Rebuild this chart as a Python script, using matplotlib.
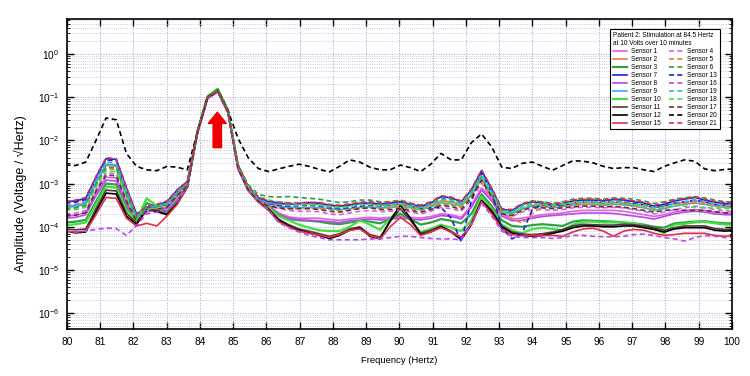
import numpy as np
import matplotlib
matplotlib.use('Agg')
import matplotlib.pyplot as plt
from matplotlib.ticker import LogLocator, FixedLocator, NullFormatter

plt.rcParams['font.family'] = ['Liberation Sans', 'DejaVu Sans']
plt.rcParams['mathtext.default'] = 'regular'

# FFT bins (Hz): 20000/65536 Hz resolution, bins 262..329
freq = np.arange(262, 330) * 20000 / 65536

# amplitudes, stored as log10(V/sqrt(Hz))
s1 = [-3.75, -3.73, -3.67, -3.22, -2.85, -2.87, -3.42, -3.88, -3.64, -3.60,
      -3.55, -3.28, -3.06, -1.83, -1.02, -0.87, -1.35, -2.66, -3.15, -3.40,
      -3.50, -3.68, -3.77, -3.80, -3.80, -3.80, -3.83, -3.85, -3.82, -3.80,
      -3.78, -3.80, -3.78, -3.76, -3.78, -3.80, -3.76, -3.70, -3.72, -3.78,
      -3.50, -3.10, -3.35, -3.70, -3.82, -3.80, -3.76, -3.72, -3.70, -3.68,
      -3.64, -3.62, -3.62, -3.62, -3.62, -3.64, -3.68, -3.72, -3.76, -3.72,
      -3.66, -3.62, -3.60, -3.62, -3.66, -3.68, -3.68, -3.68]
s2 = [-3.52, -3.50, -3.44, -2.98, -2.58, -2.60, -3.22, -3.78, -3.58, -3.55,
      -3.48, -3.20, -3.00, -1.82, -1.01, -0.85, -1.33, -2.62, -3.12, -3.37,
      -3.46, -3.48, -3.48, -3.47, -3.47, -3.48, -3.50, -3.52, -3.48, -3.45,
      -3.47, -3.50, -3.50, -3.47, -3.52, -3.56, -3.50, -3.40, -3.42, -3.48,
      -3.25, -2.90, -3.30, -3.66, -3.68, -3.60, -3.50, -3.50, -3.52, -3.50,
      -3.46, -3.44, -3.44, -3.45, -3.44, -3.45, -3.48, -3.50, -3.56, -3.52,
      -3.46, -3.44, -3.40, -3.43, -3.48, -3.50, -3.50, -3.50]
s3 = [-3.90, -3.88, -3.84, -3.42, -3.00, -3.02, -3.55, -3.88, -3.45, -3.55,
      -3.65, -3.38, -3.08, -1.80, -0.98, -0.81, -1.30, -2.60, -3.12, -3.40,
      -3.52, -3.72, -3.82, -3.85, -3.86, -3.88, -3.92, -3.94, -3.90, -3.86,
      -3.88, -3.92, -3.82, -3.70, -3.82, -3.95, -3.90, -3.82, -3.86, -3.92,
      -3.70, -3.25, -3.52, -3.85, -3.98, -4.00, -3.96, -3.94, -3.96, -3.98,
      -3.88, -3.85, -3.86, -3.87, -3.88, -3.90, -3.92, -3.95, -4.00, -4.02,
      -3.92, -3.90, -3.88, -3.87, -3.90, -3.92, -3.92, -3.92]
s7 = [-3.42, -3.40, -3.34, -2.85, -2.42, -2.44, -3.10, -3.70, -3.55, -3.50,
      -3.42, -3.15, -2.95, -1.80, -1.00, -0.84, -1.32, -2.58, -3.08, -3.33,
      -3.42, -3.45, -3.47, -3.46, -3.44, -3.45, -3.50, -3.52, -3.50, -3.46,
      -3.45, -3.47, -3.45, -3.42, -3.48, -3.53, -3.45, -3.30, -3.33, -3.42,
      -3.15, -2.70, -3.12, -3.60, -3.62, -3.48, -3.42, -3.45, -3.50, -3.46,
      -3.40, -3.38, -3.38, -3.40, -3.37, -3.38, -3.42, -3.45, -3.52, -3.48,
      -3.40, -3.36, -3.32, -3.38, -3.43, -3.46, -3.46, -3.47]
s8 = [-3.80, -3.78, -3.72, -3.28, -2.92, -2.94, -3.48, -3.90, -3.65, -3.62,
      -3.58, -3.30, -3.07, -1.84, -1.03, -0.88, -1.36, -2.67, -3.16, -3.42,
      -3.55, -3.72, -3.80, -3.84, -3.85, -3.86, -3.88, -3.90, -3.86, -3.84,
      -3.82, -3.84, -3.82, -3.80, -3.82, -3.84, -3.80, -3.74, -3.76, -3.82,
      -3.55, -3.15, -3.40, -3.75, -3.86, -3.85, -3.80, -3.76, -3.74, -3.72,
      -3.70, -3.68, -3.68, -3.68, -3.69, -3.72, -3.75, -3.78, -3.82, -3.76,
      -3.70, -3.66, -3.64, -3.66, -3.70, -3.72, -3.72, -3.72]
s9 = [-3.55, -3.53, -3.47, -2.97, -2.55, -2.57, -3.20, -3.78, -3.56, -3.54,
      -3.47, -3.20, -3.00, -1.82, -1.01, -0.85, -1.33, -2.62, -3.12, -3.38,
      -3.48, -3.52, -3.55, -3.56, -3.55, -3.56, -3.58, -3.60, -3.58, -3.55,
      -3.54, -3.56, -3.55, -3.53, -3.56, -3.60, -3.54, -3.44, -3.47, -3.52,
      -3.28, -2.85, -3.25, -3.68, -3.70, -3.58, -3.52, -3.53, -3.56, -3.53,
      -3.50, -3.48, -3.48, -3.50, -3.48, -3.49, -3.52, -3.56, -3.62, -3.58,
      -3.52, -3.48, -3.45, -3.48, -3.52, -3.55, -3.56, -3.56]
s10 = [-3.96, -3.94, -3.90, -3.48, -3.07, -3.09, -3.60, -3.85, -3.34, -3.52,
       -3.73, -3.45, -3.08, -1.79, -0.97, -0.80, -1.29, -2.58, -3.10, -3.38,
       -3.55, -3.75, -3.85, -3.95, -4.02, -4.08, -4.10, -4.10, -4.00, -3.85,
       -3.95, -4.07, -3.80, -3.60, -3.85, -4.12, -4.05, -3.95, -4.02, -4.10,
       -3.85, -3.30, -3.60, -3.95, -4.08, -4.15, -4.05, -4.02, -4.05, -4.08,
       -3.95, -3.88, -3.88, -3.90, -3.90, -3.90, -3.92, -3.98, -4.05, -4.15,
       -3.95, -3.93, -3.90, -3.88, -3.92, -3.95, -3.95, -3.95]
s11 = [-4.05, -4.07, -4.05, -3.58, -3.15, -3.17, -3.68, -3.92, -3.55, -3.62,
       -3.70, -3.45, -3.08, -1.80, -1.00, -0.84, -1.32, -2.62, -3.14, -3.40,
       -3.58, -3.82, -3.95, -4.05, -4.10, -4.16, -4.22, -4.16, -4.05, -4.00,
       -4.18, -4.24, -3.88, -3.58, -3.85, -4.15, -4.08, -3.98, -4.10, -4.25,
       -3.92, -3.38, -3.62, -3.98, -4.12, -4.17, -4.18, -4.16, -4.12, -4.06,
       -3.98, -3.94, -3.95, -3.96, -3.96, -3.94, -3.95, -3.98, -4.02, -4.08,
       -4.02, -3.98, -3.98, -3.98, -4.04, -4.06, -4.05, -4.05]
s12 = [-4.10, -4.14, -4.12, -3.65, -3.22, -3.24, -3.75, -3.95, -3.57, -3.65,
       -3.72, -3.46, -3.08, -1.80, -1.00, -0.84, -1.32, -2.62, -3.15, -3.42,
       -3.60, -3.85, -3.98, -4.08, -4.14, -4.20, -4.27, -4.20, -4.08, -4.03,
       -4.22, -4.28, -3.85, -3.50, -3.80, -4.18, -4.12, -4.00, -4.12, -4.30,
       -3.95, -3.40, -3.65, -4.00, -4.15, -4.20, -4.22, -4.20, -4.15, -4.10,
       -4.02, -3.98, -3.98, -4.00, -4.00, -3.98, -3.98, -4.02, -4.06, -4.12,
       -4.05, -4.02, -4.02, -4.02, -4.08, -4.10, -4.08, -4.08]
s15 = [-4.10, -4.12, -4.10, -3.72, -3.32, -3.34, -3.80, -3.98, -3.92, -3.98,
       -3.75, -3.48, -3.09, -1.81, -1.01, -0.85, -1.33, -2.63, -3.16, -3.43,
       -3.62, -3.88, -4.00, -4.10, -4.15, -4.19, -4.24, -4.18, -4.08, -4.05,
       -4.20, -4.28, -4.00, -3.78, -3.95, -4.20, -4.12, -4.02, -4.12, -4.25,
       -3.95, -3.42, -3.70, -4.05, -4.18, -4.20, -4.20, -4.20, -4.20, -4.22,
       -4.12, -4.05, -4.03, -4.10, -4.22, -4.10, -4.06, -4.08, -4.15, -4.20,
       -4.18, -4.15, -4.15, -4.15, -4.20, -4.22, -4.20, -4.20]
s4 = [-3.70, -3.68, -3.62, -3.14, -2.75, -2.77, -3.35, -3.85, -3.62, -3.58,
      -3.52, -3.25, -3.04, -1.83, -1.02, -0.86, -1.34, -2.62, -3.12, -3.38,
      -3.50, -3.58, -3.62, -3.64, -3.64, -3.65, -3.70, -3.72, -3.68, -3.64,
      -3.62, -3.65, -3.64, -3.62, -3.66, -3.70, -3.64, -3.55, -3.58, -3.64,
      -3.38, -2.98, -3.35, -3.72, -3.76, -3.66, -3.60, -3.60, -3.62, -3.60,
      -3.56, -3.55, -3.55, -3.56, -3.55, -3.56, -3.60, -3.64, -3.70, -3.66,
      -3.60, -3.56, -3.52, -3.56, -3.60, -3.63, -3.64, -3.64]
s5 = [-3.60, -3.58, -3.52, -3.04, -2.65, -2.67, -3.27, -3.82, -3.60, -3.57,
      -3.50, -3.22, -3.02, -1.82, -1.01, -0.85, -1.33, -2.63, -3.13, -3.40,
      -3.52, -3.56, -3.58, -3.58, -3.57, -3.58, -3.60, -3.63, -3.60, -3.56,
      -3.55, -3.58, -3.56, -3.54, -3.58, -3.62, -3.56, -3.46, -3.50, -3.55,
      -3.30, -2.92, -3.32, -3.70, -3.80, -3.92, -3.70, -3.52, -3.55, -3.52,
      -3.50, -3.48, -3.48, -3.50, -3.48, -3.48, -3.52, -3.55, -3.60, -3.56,
      -3.50, -3.47, -3.44, -3.47, -3.52, -3.54, -3.55, -3.55]
s6 = [-3.58, -3.56, -3.50, -3.02, -2.62, -2.64, -3.25, -3.80, -3.58, -3.55,
      -3.48, -3.22, -3.02, -1.82, -1.01, -0.85, -1.32, -2.55, -3.02, -3.25,
      -3.30, -3.31, -3.30, -3.32, -3.34, -3.36, -3.40, -3.44, -3.42, -3.38,
      -3.38, -3.42, -3.42, -3.38, -3.45, -3.50, -3.44, -3.34, -3.36, -3.44,
      -3.18, -2.82, -3.20, -3.62, -3.66, -3.50, -3.40, -3.42, -3.46, -3.42,
      -3.36, -3.34, -3.34, -3.36, -3.33, -3.34, -3.36, -3.40, -3.46, -3.42,
      -3.36, -3.33, -3.30, -3.33, -3.38, -3.42, -3.42, -3.42]
s13 = [-3.45, -3.43, -3.37, -2.88, -2.45, -2.47, -3.12, -3.74, -3.56, -3.52,
       -3.44, -3.18, -2.97, -1.81, -1.01, -0.85, -1.33, -2.60, -3.10, -3.35,
       -3.46, -3.50, -3.52, -3.51, -3.50, -3.52, -3.56, -3.58, -3.55, -3.52,
       -3.50, -3.52, -3.50, -3.48, -3.52, -3.58, -3.56, -3.55, -3.80, -4.35,
       -3.40, -2.75, -3.20, -4.03, -4.28, -4.15, -3.60, -3.48, -3.52, -3.50,
       -3.45, -3.42, -3.42, -3.44, -3.42, -3.43, -3.46, -3.50, -3.56, -3.52,
       -3.45, -3.42, -3.38, -3.42, -3.48, -3.50, -3.50, -3.50]
s16 = [-4.13, -4.12, -4.10, -4.06, -4.03, -4.04, -4.20, -3.97, -3.70, -3.66,
       -3.62, -3.40, -3.08, -1.82, -1.02, -0.86, -1.34, -2.64, -3.16, -3.42,
       -3.60, -3.90, -4.02, -4.12, -4.20, -4.25, -4.30, -4.30, -4.30, -4.30,
       -4.28, -4.28, -4.25, -4.22, -4.22, -4.25, -4.27, -4.28, -4.28, -4.30,
       -3.95, -3.45, -3.75, -4.10, -4.22, -4.25, -4.25, -4.25, -4.27, -4.25,
       -4.20, -4.20, -4.22, -4.23, -4.23, -4.22, -4.18, -4.17, -4.20, -4.25,
       -4.28, -4.33, -4.25, -4.20, -4.22, -4.25, -4.25, -4.25]
s19 = [-3.50, -3.48, -3.42, -2.92, -2.50, -2.52, -3.15, -3.76, -3.55, -3.52,
       -3.45, -3.18, -2.98, -1.81, -1.01, -0.85, -1.33, -2.60, -3.10, -3.36,
       -3.45, -3.48, -3.50, -3.50, -3.48, -3.50, -3.52, -3.55, -3.53, -3.50,
       -3.48, -3.50, -3.48, -3.46, -3.50, -3.55, -3.48, -3.36, -3.40, -3.46,
       -3.20, -2.78, -3.18, -3.62, -3.65, -3.52, -3.46, -3.48, -3.52, -3.48,
       -3.44, -3.42, -3.44, -3.46, -3.44, -3.44, -3.48, -3.50, -3.55, -3.54,
       -3.46, -3.42, -3.38, -3.42, -3.47, -3.50, -3.52, -3.52]
s18 = [-3.62, -3.60, -3.55, -3.08, -2.70, -2.72, -3.30, -3.84, -3.60, -3.56,
       -3.50, -3.24, -3.03, -1.82, -1.01, -0.85, -1.32, -2.58, -3.06, -3.30,
       -3.38, -3.42, -3.45, -3.47, -3.48, -3.50, -3.54, -3.56, -3.52, -3.48,
       -3.48, -3.52, -3.52, -3.48, -3.54, -3.60, -3.54, -3.42, -3.45, -3.52,
       -3.24, -2.85, -3.24, -3.66, -3.70, -3.56, -3.46, -3.47, -3.50, -3.47,
       -3.44, -3.42, -3.42, -3.44, -3.42, -3.44, -3.48, -3.52, -3.58, -3.55,
       -3.50, -3.52, -3.55, -3.56, -3.56, -3.58, -3.58, -3.58]
s17 = [-3.75, -3.73, -3.67, -3.18, -2.80, -2.82, -3.40, -3.88, -3.62, -3.60,
       -3.54, -3.27, -3.05, -1.83, -1.02, -0.86, -1.34, -2.64, -3.14, -3.40,
       -3.52, -3.56, -3.58, -3.58, -3.58, -3.60, -3.64, -3.66, -3.62, -3.58,
       -3.56, -3.60, -3.60, -3.58, -3.62, -3.66, -3.60, -3.50, -3.53, -3.60,
       -3.32, -2.92, -3.30, -3.70, -3.74, -3.62, -3.55, -3.56, -3.58, -3.56,
       -3.54, -3.52, -3.52, -3.54, -3.53, -3.55, -3.58, -3.62, -3.66, -3.62,
       -3.60, -3.62, -3.62, -3.62, -3.65, -3.68, -3.68, -3.68]
s20 = [-2.57, -2.58, -2.50, -2.00, -1.48, -1.52, -2.30, -2.60, -2.68, -2.70,
       -2.60, -2.62, -2.68, -1.80, -1.00, -0.84, -1.30, -1.95, -2.40, -2.65,
       -2.72, -2.66, -2.60, -2.55, -2.60, -2.67, -2.73, -2.60, -2.45, -2.50,
       -2.62, -2.68, -2.68, -2.57, -2.63, -2.72, -2.55, -2.30, -2.45, -2.45,
       -2.05, -1.85, -2.15, -2.62, -2.65, -2.53, -2.50, -2.60, -2.69, -2.58,
       -2.47, -2.48, -2.52, -2.60, -2.65, -2.63, -2.63, -2.68, -2.72, -2.60,
       -2.52, -2.45, -2.48, -2.66, -2.70, -2.67, -2.66, -2.66]
s21 = [-3.42, -3.38, -3.32, -2.83, -2.40, -2.42, -3.08, -3.72, -3.52, -3.48,
       -3.40, -3.14, -2.96, -1.80, -1.00, -0.84, -1.32, -2.57, -3.06, -3.30,
       -3.40, -3.43, -3.45, -3.45, -3.43, -3.44, -3.48, -3.50, -3.47, -3.43,
       -3.42, -3.45, -3.43, -3.40, -3.46, -3.50, -3.42, -3.28, -3.31, -3.40,
       -3.12, -2.68, -3.10, -3.58, -3.60, -3.46, -3.40, -3.43, -3.47, -3.44,
       -3.38, -3.36, -3.36, -3.38, -3.35, -3.36, -3.40, -3.43, -3.50, -3.45,
       -3.38, -3.34, -3.30, -3.36, -3.41, -3.44, -3.44, -3.45]

# legend order: solid column then dashed column
series = [
    ('Sensor 1', s1, '#e060e0', '-'), ('Sensor 2', s2, '#e88030', '-'),
    ('Sensor 3', s3, '#30a048', '-'), ('Sensor 7', s7, '#2020d8', '-'),
    ('Sensor 8', s8, '#b848e8', '-'), ('Sensor 9', s9, '#30b0e0', '-'),
    ('Sensor 10', s10, '#40e040', '-'), ('Sensor 11', s11, '#583838', '-'),
    ('Sensor 12', s12, '#000000', '-'), ('Sensor 15', s15, '#e03048', '-'),
    ('Sensor 4', s4, '#e060e0', '--'), ('Sensor 5', s5, '#e88030', '--'),
    ('Sensor 6', s6, '#30a048', '--'), ('Sensor 13', s13, '#2020d8', '--'),
    ('Sensor 16', s16, '#b848e8', '--'), ('Sensor 19', s19, '#30b0e0', '--'),
    ('Sensor 18', s18, '#40e040', '--'), ('Sensor 17', s17, '#583838', '--'),
    ('Sensor 20', s20, '#000000', '--'), ('Sensor 21', s21, '#e03048', '--'),
]

fig = plt.figure(figsize=(7.5, 3.76), dpi=100)
ax = fig.add_axes([0.0893, 0.125, 0.8867, 0.8245])

handles = []
for name, vals, color, ls in series:
    lw = 1.6 if name in ('Sensor 10', 'Sensor 3') else 1.2
    line, = ax.plot(freq, 10 ** np.array(vals), color=color, lw=lw, ls=ls,
                    dashes=(3, 2) if ls == '--' else (None, None), label=name)
    handles.append(line)

ax.set_yscale('log')
ax.set_xlim(80, 100)
ax.set_ylim(4.3e-7, 6.5)
ax.xaxis.set_major_locator(FixedLocator(range(80, 101)))
ax.yaxis.set_major_locator(FixedLocator([1e-6, 1e-5, 1e-4, 1e-3, 1e-2, 1e-1, 1]))
ax.set_yticklabels([r'$10^{-6}$', r'$10^{-5}$', r'$10^{-4}$', r'$10^{-3}$',
                    r'$10^{-2}$', r'$10^{-1}$', r'$10^{0}$'])
ax.yaxis.set_minor_locator(LogLocator(base=10, subs=np.arange(2, 10), numticks=20))
ax.yaxis.set_minor_formatter(NullFormatter())

ax.grid(True, which='major', ls=':', color='#a0a0d0', lw=0.7)
ax.grid(True, which='minor', axis='y', ls=':', color='#b8b8d8', lw=0.6)
ax.tick_params(which='both', direction='in', top=True, right=True, labelsize=7.3)
ax.tick_params(which='major', length=5, width=1, pad=5.5)
ax.tick_params(which='minor', length=2.5, width=0.6)
for sp in ax.spines.values():
    sp.set_linewidth(1.2)

ax.set_xlabel('Frequency (Hertz)', fontsize=6.8)
ax.xaxis.set_label_coords(0.5, -0.087)
ax.set_ylabel('Amplitude (Voltage / \u221aHertz)', fontsize=9)
ax.yaxis.set_label_coords(-0.060, 0.437)

# stimulation marker
ax.annotate('', xy=(84.52, 0.045), xytext=(84.52, 0.0068),
            arrowprops=dict(facecolor='#ee0000', edgecolor='#ee0000',
                            width=6, headwidth=13, headlength=8))

leg = ax.legend(handles=handles, ncol=2, loc='upper right',
                bbox_to_anchor=(0.9865, 0.977), fontsize=4.7,
                title='Patient 2: Stimulation at 84.5 Hertz\nat 10 Volts over 10 minutes',
                title_fontsize=4.7, alignment='left', frameon=True, fancybox=False,
                edgecolor='black', framealpha=1, borderpad=0.4, labelspacing=0.15,
                handlelength=2.2, handletextpad=0.6, columnspacing=1.3)
leg.get_frame().set_linewidth(0.8)

fig.savefig('out.png', dpi=100)
